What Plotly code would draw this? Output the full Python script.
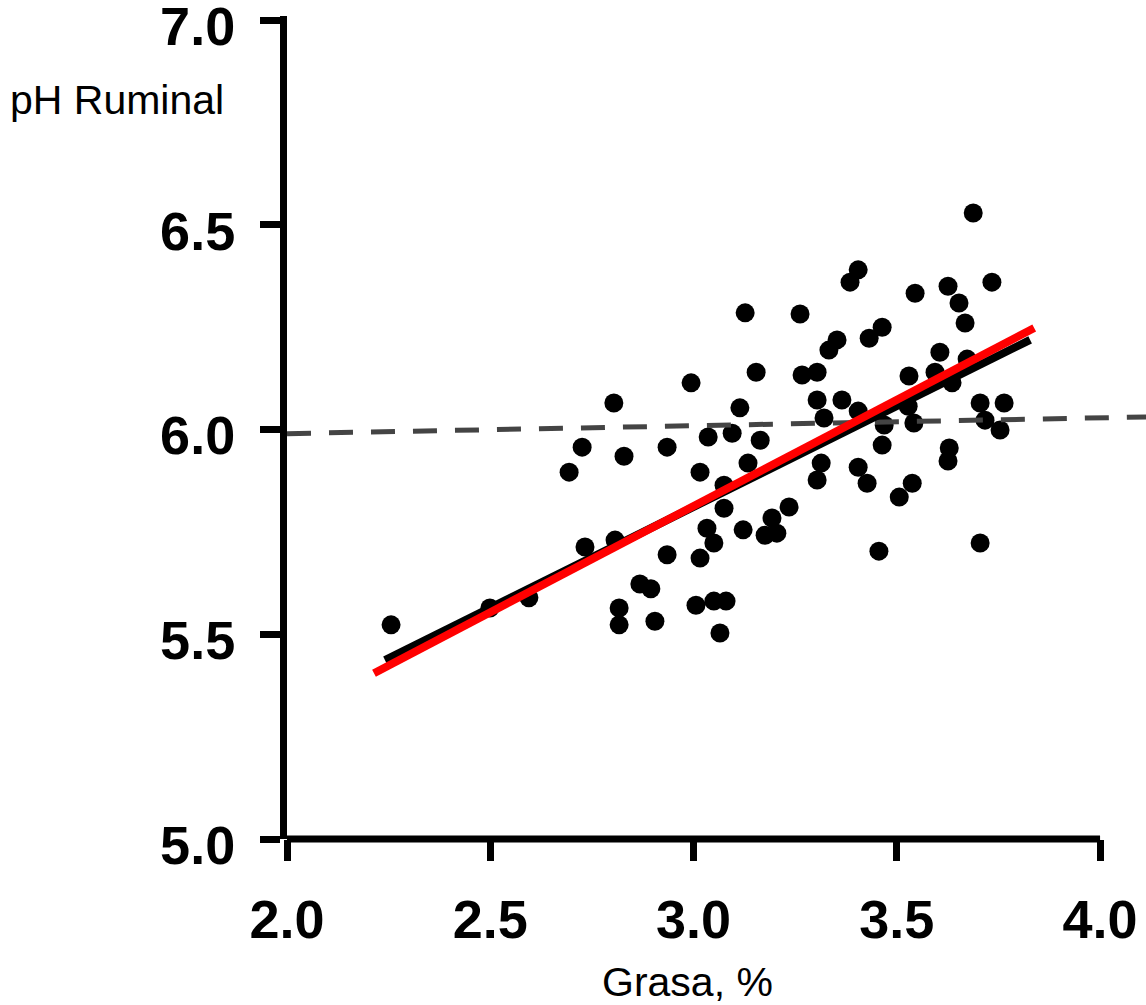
import plotly.graph_objects as go

# Data: milk fat (%) vs ruminal pH
grasa = [
    2.256, 2.499, 2.595, 2.733, 2.807, 2.694, 2.726, 2.804, 2.829, 2.817,
    2.817, 2.868, 2.895, 2.905, 2.935, 2.935, 2.994, 3.016, 3.016, 3.006,
    3.050, 3.080, 3.065, 3.036, 3.095, 3.114, 3.127, 3.134, 3.154, 3.164,
    3.075, 3.075, 3.033, 3.050, 3.122, 3.176, 3.205, 3.235, 3.193, 3.262,
    3.267, 3.304, 3.333, 3.353, 3.385, 3.405, 3.432, 3.464, 3.304, 3.365,
    3.405, 3.321, 3.314, 3.304, 3.405, 3.427, 3.469, 3.464, 3.530, 3.528,
    3.542, 3.538, 3.506, 3.456, 3.545, 3.626, 3.653, 3.668, 3.734, 3.688,
    3.606, 3.594, 3.673, 3.636, 3.705, 3.764, 3.717, 3.754, 3.629, 3.626,
    3.705,
]
ph = [
    5.523, 5.564, 5.589, 5.713, 5.730, 5.896, 5.957, 6.065, 5.935, 5.564,
    5.523, 5.623, 5.611, 5.532, 5.957, 5.694, 6.114, 5.896, 5.686, 5.571,
    5.581, 5.581, 5.503, 5.982, 5.991, 6.053, 6.285, 5.918, 6.140, 5.974,
    5.864, 5.808, 5.759, 5.723, 5.755, 5.742, 5.747, 5.811, 5.784, 6.282,
    6.133, 6.140, 6.194, 6.219, 6.360, 6.390, 6.223, 6.250, 6.072, 6.072,
    6.045, 6.028, 5.918, 5.877, 5.908, 5.869, 6.011, 5.962, 6.131, 6.057,
    6.016, 5.869, 5.835, 5.703, 6.333, 6.350, 6.309, 6.260, 6.360, 6.529,
    6.189, 6.140, 6.172, 6.114, 6.065, 6.065, 6.023, 5.999, 5.955, 5.923,
    5.723,
]

# Regression lines (end points)
red_fit_x = [2.214, 3.838]
red_fit_y = [5.405, 6.248]
black_fit_x = [2.241, 3.828]
black_fit_y = [5.437, 6.219]
# Reference dashed line (pH 6.0)
ref_x = [2.0, 4.12]
ref_y = [5.990, 6.031]

x_ticks = [2.0, 2.5, 3.0, 3.5, 4.0]
y_ticks = [5.0, 5.5, 6.0, 6.5, 7.0]
y_tick_text = ["5.0", "5.5", "6.0", "6.5", "7.0"]

fig = go.Figure()
fig.add_trace(go.Scatter(
    x=grasa, y=ph, mode="markers",
    marker=dict(color="black", size=19, line=dict(width=0)),
    hoverinfo="skip", showlegend=False,
))
fig.add_trace(go.Scatter(
    x=ref_x, y=ref_y, mode="lines",
    line=dict(color="#444444", width=5, dash="24px,18px"),
    hoverinfo="skip", showlegend=False,
))
fig.add_trace(go.Scatter(
    x=black_fit_x, y=black_fit_y, mode="lines",
    line=dict(color="black", width=8),
    hoverinfo="skip", showlegend=False,
))
fig.add_trace(go.Scatter(
    x=red_fit_x, y=red_fit_y, mode="lines",
    line=dict(color="#FF0000", width=8),
    hoverinfo="skip", showlegend=False,
))

tick_font = dict(family="Liberation Sans, Arial, sans-serif", size=54,
                 color="black", weight="bold")

fig.update_layout(
    width=1146, height=1005,
    margin=dict(l=287, r=0, t=16, b=166, autoexpand=False),
    paper_bgcolor="white", plot_bgcolor="white",
    xaxis=dict(
        range=[2.0, 4.113], showgrid=False, zeroline=False, showline=False,
        tickmode="array", tickvals=x_ticks, tickformat=".1f",
        ticks="outside", ticklen=21, tickwidth=7, tickcolor="black",
        tickfont=tick_font, ticklabelstandoff=12, ticklabeloverflow="allow",
        automargin=False,
    ),
    yaxis=dict(
        range=[5.0, 7.01], showgrid=False, zeroline=False,
        showline=True, linewidth=7, linecolor="black",
        tickmode="array", tickvals=y_ticks, ticktext=y_tick_text,
        ticks="outside", ticklen=20, tickwidth=7, tickcolor="black",
        tickfont=tick_font, ticklabelstandoff=14, ticklabeloverflow="allow",
        ticklabelshift=6, automargin=False,
    ),
    shapes=[dict(
        type="line", xref="x", yref="paper",
        x0=x_ticks[0], x1=x_ticks[-1], y0=0, y1=0,
        line=dict(color="black", width=7),
    )],
    annotations=[
        dict(text="pH Ruminal", xref="paper", yref="paper",
             x=-0.3248, y=0.898, xanchor="left", yanchor="middle",
             showarrow=False,
             font=dict(family="Liberation Sans, Arial, sans-serif",
                       size=41, color="black")),
        dict(text="Grasa, %", xref="paper", yref="paper",
             x=0.4657, y=-0.1738, xanchor="center", yanchor="middle",
             showarrow=False,
             font=dict(family="Liberation Sans, Arial, sans-serif",
                       size=41, color="black")),
    ],
)

fig.write_html("out.html")
